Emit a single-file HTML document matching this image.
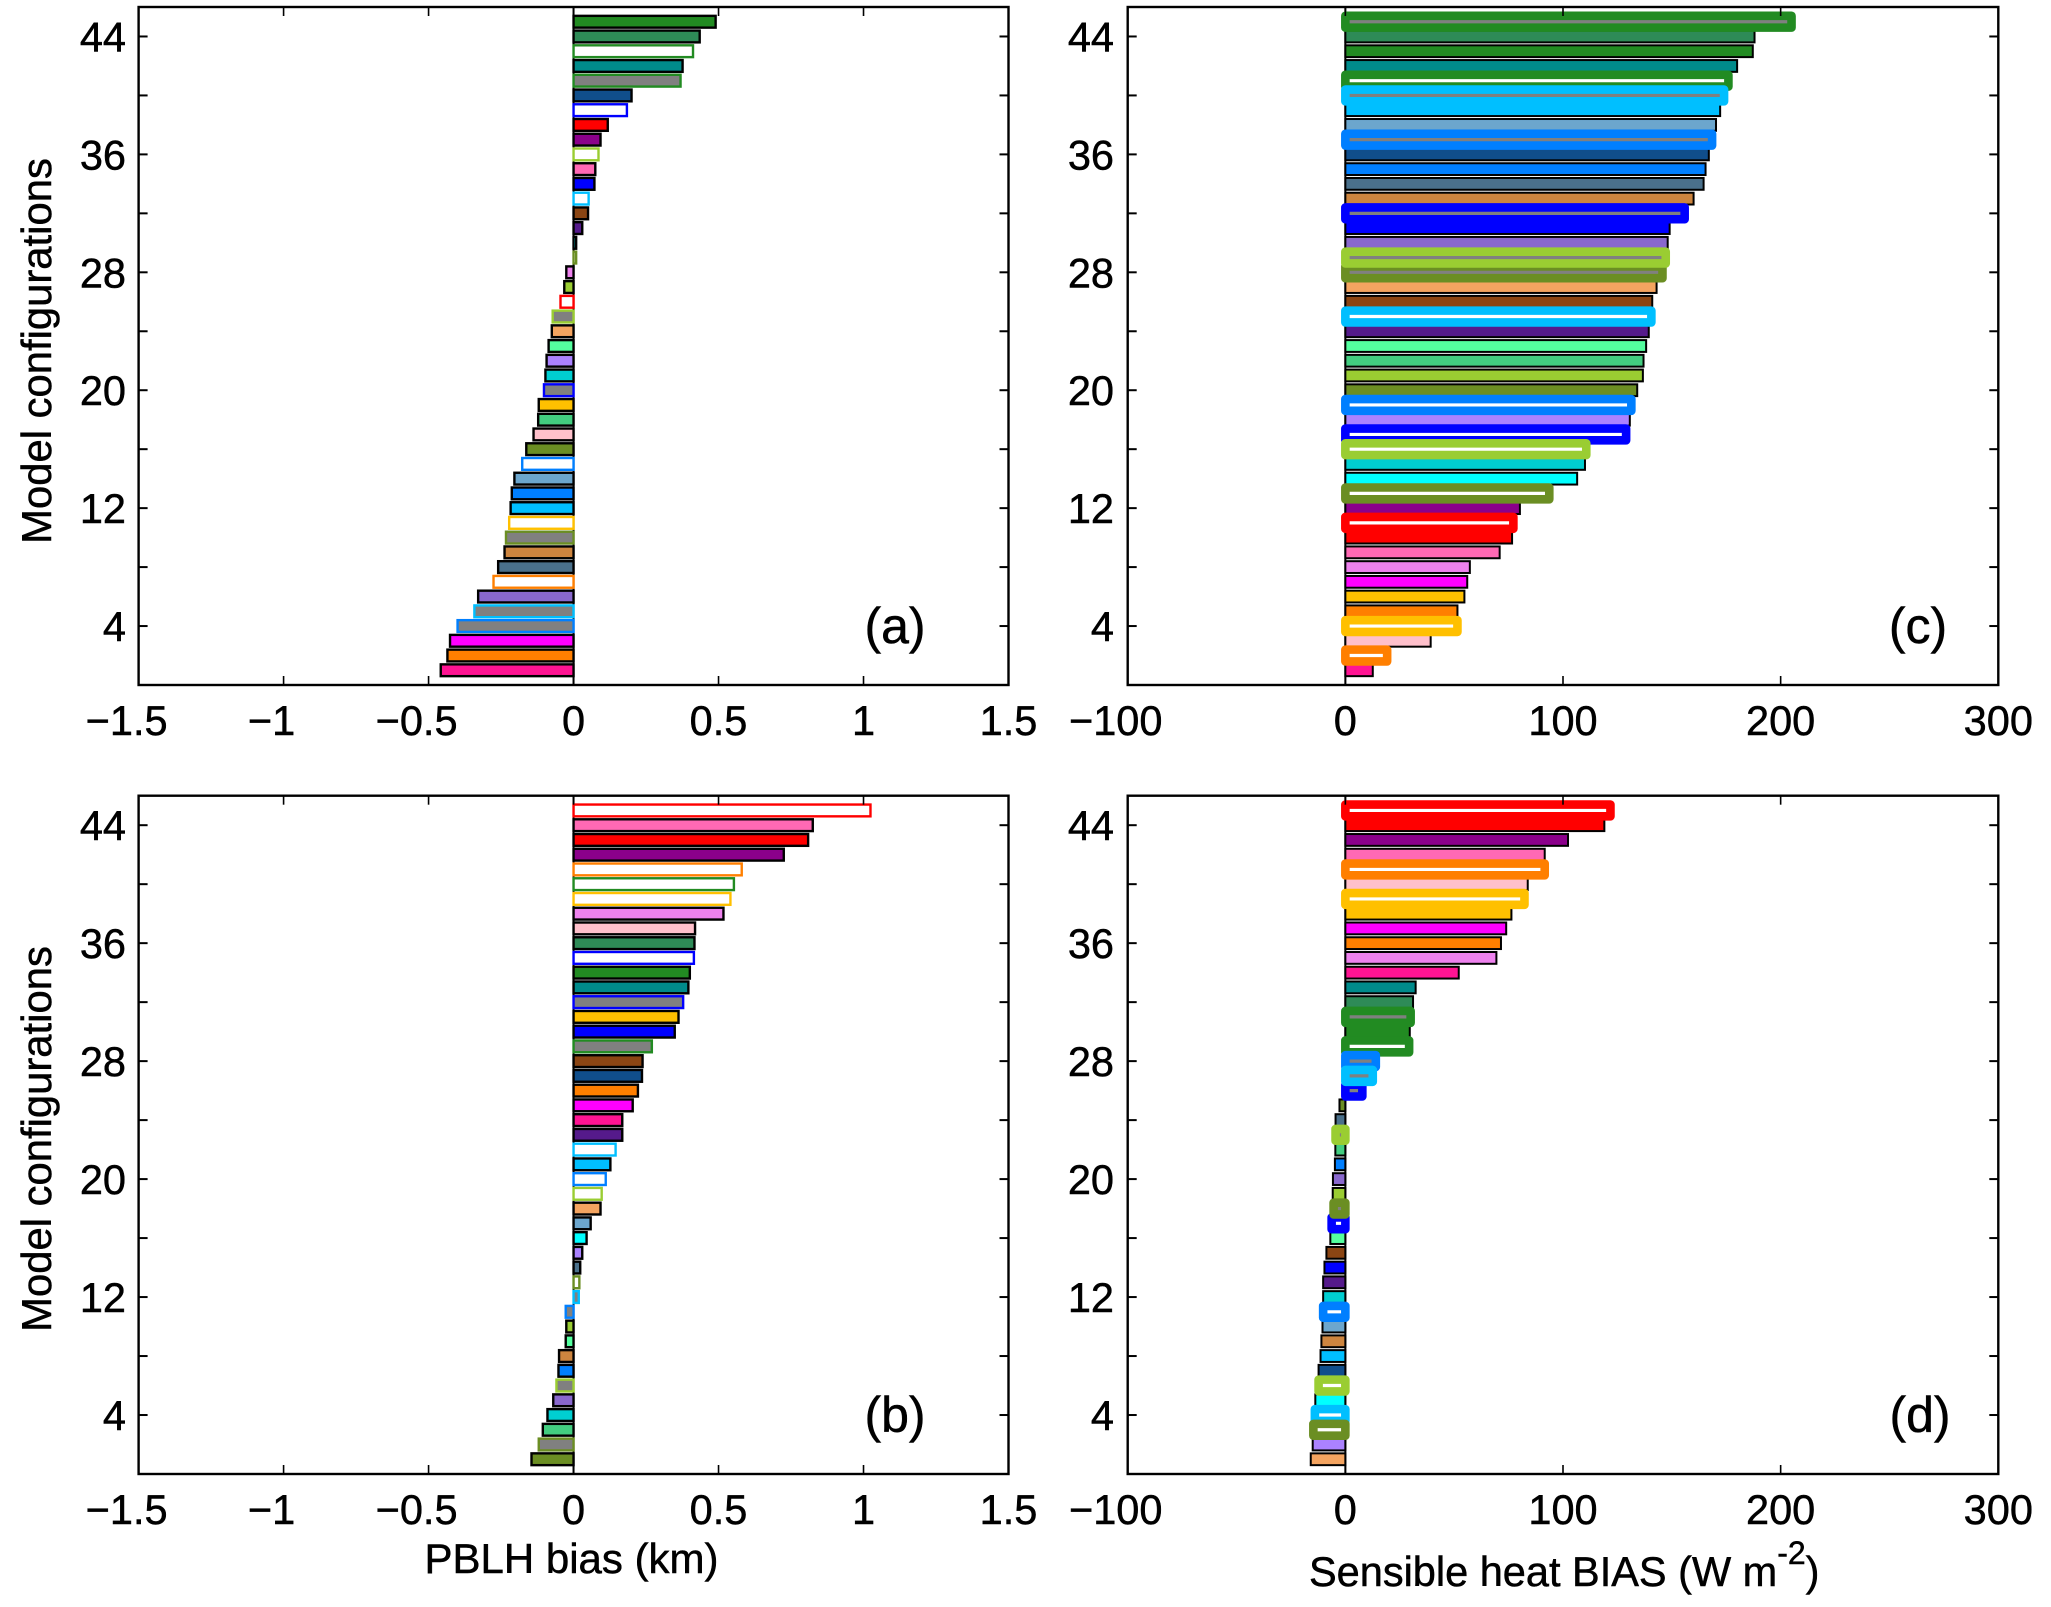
<!DOCTYPE html>
<html lang="en">
<head>
<meta charset="utf-8">
<title>Model configurations bias charts</title>
<style>
  html, body { margin: 0; padding: 0; background: #fff; }
  svg { display: block; }
  text { font-family: "Liberation Sans", sans-serif; fill: #000; stroke: #000; stroke-width: 0.5px; }
</style>
</head>
<body>
<svg id="figure" xmlns="http://www.w3.org/2000/svg" width="2051" height="1607" viewBox="0 0 2051 1607">
  <rect x="0" y="0" width="2051" height="1607" fill="#fff"/>
  <text font-size="41.8" text-anchor="middle" transform="translate(51 351) rotate(-90)">Model configurations</text>
  <text font-size="41.8" text-anchor="middle" transform="translate(51 1139) rotate(-90)">Model configurations</text>
  <text font-size="42" text-anchor="middle" x="571.5" y="1573">PBLH bias (km)</text>
  <text font-size="41.5" x="1309" y="1586">Sensible heat BIAS (W m<tspan font-size="32" dy="-22">-2</tspan><tspan dy="22">)</tspan></text>
  <text font-size="50" text-anchor="middle" x="895" y="643">(a)</text>
  <text font-size="50" text-anchor="middle" x="895" y="1432">(b)</text>
  <text font-size="50" text-anchor="middle" x="1918" y="643">(c)</text>
  <text font-size="50" text-anchor="middle" x="1920" y="1432">(d)</text>
</svg>
<script>
// Tick labels
const yTickValues = [4, 8, 12, 16, 20, 24, 28, 32, 36, 40, 44];
const yTickLabels = [4, 12, 20, 28, 36, 44];
const pblhTicks = [-1.5, -1, -0.5, 0, 0.5, 1, 1.5];
const heatTicks = [-100, 0, 100, 200, 300];

// Configurations in each panel, listed top of the chart (45) to bottom (1).
// "w:" = white-filled configuration, "g:" = gray-filled configuration.
const categoriesA = ["forest","sea","w:forest","teal","g:forest","navy","w:blue","red","purple","w:yellowgreen","hotpink","blue","w:deepsky","brown","indigo","cyan","w:olive","violet","yellowgreen","w:red","g:yellowgreen","sandy","spring","lavender","turquoise","g:blue","gold","sea3","pink","olive","w:azure","sky3","azure","deepsky","w:gold","g:olive","peru","sky4","w:orange","mpurple","g:deepsky","g:azure","magenta","orange","deeppink"];
const valuesA = [0.49,0.435,0.412,0.376,0.369,0.2,0.184,0.118,0.093,0.086,0.075,0.072,0.052,0.05,0.03,0.009,0.009,-0.025,-0.032,-0.045,-0.072,-0.075,-0.086,-0.093,-0.097,-0.102,-0.12,-0.122,-0.138,-0.163,-0.177,-0.204,-0.213,-0.217,-0.222,-0.233,-0.238,-0.26,-0.276,-0.329,-0.342,-0.4,-0.426,-0.435,-0.458];

const categoriesB = ["w:red","hotpink","red","purple","w:orange","w:forest","w:gold","violet","pink","sea","w:blue","forest","teal","g:blue","gold","blue","g:forest","brown","navy","orange","magenta","deeppink","indigo","w:deepsky","deepsky","w:azure","w:yellowgreen","sandy","sky3","cyan","lavender","sky4","w:olive","g:deepsky","g:azure","yellowgreen","spring","peru","azure","g:yellowgreen","mpurple","turquoise","sea3","g:olive","olive"];
const valuesB = [1.024,0.825,0.809,0.725,0.58,0.553,0.541,0.517,0.419,0.417,0.415,0.401,0.396,0.378,0.362,0.349,0.27,0.238,0.236,0.222,0.204,0.168,0.168,0.145,0.127,0.111,0.097,0.093,0.059,0.045,0.03,0.023,0.02,0.018,-0.027,-0.025,-0.027,-0.05,-0.052,-0.059,-0.07,-0.09,-0.106,-0.12,-0.145];

const categoriesC = ["g:forest","sea","forest","teal","w:forest","g:deepsky","deepsky","sky3","g:azure","navy","azure","sky4","peru","g:blue","blue","mpurple","g:yellowgreen","g:olive","sandy","brown","w:deepsky","indigo","spring","sea3","yellowgreen","olive","w:azure","lavender","w:blue","w:yellowgreen","turquoise","cyan","w:olive","purple","w:red","red","hotpink","violet","magenta","gold","orange","w:gold","pink","w:orange","deeppink"];
const valuesC = [205,188,187.2,180,176,174,172.2,170.3,168.5,167,165.5,164.6,160,155.9,149,148.1,147.2,145.7,143,141,140.6,139.4,138.2,137,136.7,134.1,131.4,130.7,129,110.7,110.1,106.5,93.7,80.2,77.2,76.6,70.9,57.2,56,54.7,51.5,51.5,39.2,19.2,12.6];

const categoriesD = ["w:red","red","purple","hotpink","w:orange","pink","w:gold","gold","magenta","orange","violet","deeppink","teal","sea","g:forest","forest","w:forest","g:azure","g:deepsky","g:blue","olive","sky4","g:yellowgreen","sea3","azure","mpurple","yellowgreen","g:olive","w:blue","spring","brown","blue","indigo","turquoise","w:azure","sky3","peru","deepsky","navy","w:yellowgreen","cyan","w:deepsky","w:olive","lavender","sandy"];
const valuesD = [121.8,119,102.3,91.6,91.6,83.8,82.3,76.3,73.9,71.5,69.4,52.1,32.3,31.1,30,29.6,29.3,14,12.6,7.8,-2.7,-4.5,-4.5,-4.6,-4.8,-5.7,-5.8,-5.4,-6.3,-6.9,-8.7,-9.6,-10.2,-10.2,-10.2,-10.5,-11,-11.4,-12.3,-12.3,-13.8,-14,-14.7,-15,-15.9];

// Colour of each configuration family
const palette = {
  forest:"#228B22", sea:"#2E8B57", teal:"#008B8B", navy:"#104E8B", red:"#FF0000", purple:"#8B008B",
  yellowgreen:"#9ACD32", hotpink:"#FF69B4", blue:"#0000FF", deepsky:"#00BFFF", brown:"#8B4513",
  indigo:"#551A8B", turquoise:"#00CED1", violet:"#EE82EE", sandy:"#F4A460", spring:"#54FF9F",
  lavender:"#AB82FF", gold:"#FFC000", sea3:"#43CD80", pink:"#FFC0CB", olive:"#6B8E23", azure:"#007FFF",
  sky3:"#6CA6CD", peru:"#CD853F", sky4:"#4A708B", orange:"#FF7F00", mpurple:"#8968CD", magenta:"#FF00FF",
  deeppink:"#FF1493", cyan:"#00FFFF"
};
// Families later in this list paint over earlier ones where outlines overlap
const outlineOrder = ["red","orange","gold","forest","blue","azure","deepsky","olive","yellowgreen"];

const SVG_NS = "http://www.w3.org/2000/svg";
const figure = document.getElementById("figure");
const Y_MIN = 0, Y_MAX = 46, BAR_WIDTH = 0.8, TOP_CONFIG = 45;

function make(parent, tag, attrs, content) {
  const el = document.createElementNS(SVG_NS, tag);
  for (const k in attrs) el.setAttribute(k, attrs[k]);
  if (content !== undefined) el.textContent = content;
  parent.appendChild(el);
  return el;
}

function drawPanel(panel) {
  const { id, left, right, top, bottom, xMin, xMax, xTicks, categories, values, outlineWidth, solidWidth, labelRight } = panel;
  const xScale = v => left + (v - xMin) / (xMax - xMin) * (right - left);
  const yScale = v => bottom - (v - Y_MIN) / (Y_MAX - Y_MIN) * (bottom - top);

  const group = make(figure, "g", {});
  
  

  // zero line
  const zero = make(group, "line", { x1: xScale(0), x2: xScale(0), y1: top, y2: bottom, stroke: "#000", "stroke-width": 2 });
  
  

  // bars: solid first, outlined configurations on top
  const rows = categories.map((cat, i) => ({ cat, value: values[i], config: TOP_CONFIG - i }));
  const rank = r => {
    const parts = r.cat.split(":");
    return parts.length === 1 ? -1 : outlineOrder.indexOf(parts[1]);
  };
  rows.slice().sort((a, b) => rank(a) - rank(b)).forEach(r => {
    const parts = r.cat.split(":");
    const outlined = parts.length === 2;
    const colour = palette[outlined ? parts[1] : parts[0]];
    const fill = !outlined ? colour : (parts[0] === "w" ? "#fff" : "#808080");
    const x0 = xScale(Math.min(0, r.value));
    const x1 = xScale(Math.max(0, r.value));
    const y0 = yScale(r.config + BAR_WIDTH / 2);
    const y1 = yScale(r.config - BAR_WIDTH / 2);
    const bar = make(group, "rect", {
      x: x0, y: y0, width: x1 - x0, height: y1 - y0, fill,
      stroke: outlined ? colour : "#000",
      "stroke-width": outlined ? outlineWidth : solidWidth,
      "stroke-linejoin": outlined && outlineWidth > 4 ? "round" : "miter"
    });
    
    
  });

  // frame
  const frame = make(group, "rect", { x: left, y: top, width: right - left, height: bottom - top, fill: "none", stroke: "#000", "stroke-width": 2.4 });
  
  

  // x ticks
  xTicks.forEach(t => {
    const x = xScale(t);
    const tickB = make(group, "line", { x1: x, x2: x, y1: bottom, y2: bottom - 9, stroke: "#000", "stroke-width": 1.6 });
    
    
    const tickT = make(group, "line", { x1: x, x2: x, y1: top, y2: top + 9, stroke: "#000", "stroke-width": 1.6 });
    
    
    const offset = t < 0 ? -12 : 0;
    const label = make(group, "text", { x: x + offset, y: bottom + 50, "font-size": 41.5, "text-anchor": "middle" },
      (t < 0 ? "\u2212" : "") + Math.abs(t));
    
    
  });

  // y ticks
  yTickValues.forEach(t => {
    const y = yScale(t);
    const tickL = make(group, "line", { x1: left, x2: left + 9, y1: y, y2: y, stroke: "#000", "stroke-width": 2 });
    
    
    const tickR = make(group, "line", { x1: right, x2: right - 9, y1: y, y2: y, stroke: "#000", "stroke-width": 2 });
    
    
  });
  yTickLabels.forEach(t => {
    const label = make(group, "text", { x: labelRight, y: yScale(t) + 15, "font-size": 41.5, "text-anchor": "end" }, String(t));
    
    
  });
}

drawPanel({ id: "a", left: 138.6, right: 1008.5, top: 7, bottom: 685, xMin: -1.5, xMax: 1.5, xTicks: pblhTicks, categories: categoriesA, values: valuesA, outlineWidth: 2.4, solidWidth: 2.4, labelRight: 126 });
drawPanel({ id: "b", left: 138.6, right: 1008.5, top: 795.7, bottom: 1474, xMin: -1.5, xMax: 1.5, xTicks: pblhTicks, categories: categoriesB, values: valuesB, outlineWidth: 2.4, solidWidth: 2.4, labelRight: 126 });
drawPanel({ id: "c", left: 1127.7, right: 1998.3, top: 7, bottom: 685, xMin: -100, xMax: 300, xTicks: heatTicks, categories: categoriesC, values: valuesC, outlineWidth: 8.6, solidWidth: 2, labelRight: 1114 });
drawPanel({ id: "d", left: 1127.7, right: 1998.3, top: 795.7, bottom: 1474, xMin: -100, xMax: 300, xTicks: heatTicks, categories: categoriesD, values: valuesD, outlineWidth: 8.6, solidWidth: 2, labelRight: 1114 });
</script>
</body>
</html>
